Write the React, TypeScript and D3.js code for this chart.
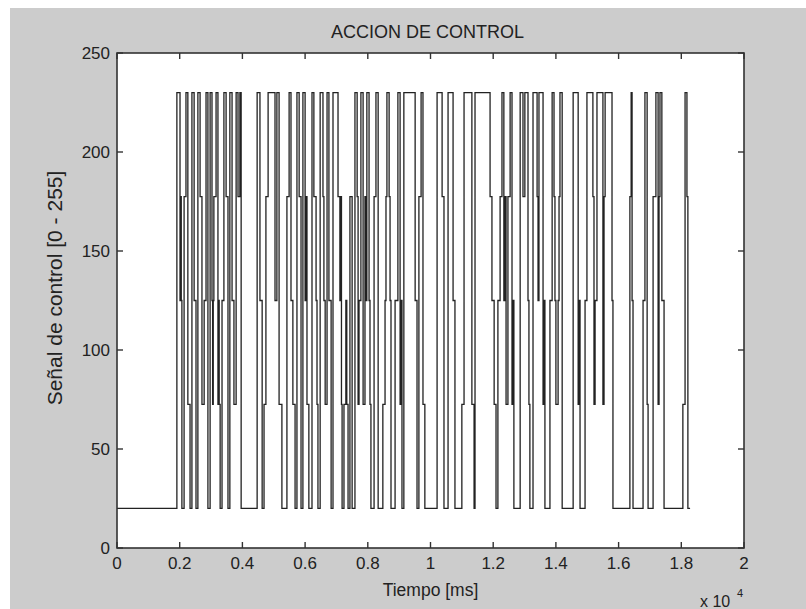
import React from 'react';
import * as d3 from 'd3';

// tiempos de cada cambio [ms] y nivel que toma la señal a partir de ese instante
const tiempos = [
  0, 1910, 2010, 2030, 2050, 2070, 2140, 2200, 2260, 2330,
  2390, 2460, 2520, 2580, 2650, 2710, 2780, 2840, 2900, 2970,
  3030, 3050, 3070, 3090, 3160, 3220, 3240, 3260, 3290, 3350,
  3410, 3480, 3540, 3600, 3670, 3730, 3800, 3860, 3920, 3960,
  4470, 4560, 4630, 4690, 4750, 4820, 5040, 5100, 5170, 5260,
  5420, 5490, 5550, 5610, 5680, 5740, 5810, 5870, 5930, 6000,
  6030, 6060, 6120, 6220, 6280, 6350, 6380, 6410, 6480, 6570,
  6600, 6640, 6700, 6760, 6830, 6890, 7050, 7110, 7140, 7160,
  7180, 7240, 7300, 7330, 7370, 7430, 7500, 7590, 7660, 7690,
  7720, 7780, 7850, 7910, 7940, 7970, 8040, 8070, 8100, 8200,
  8260, 8330, 8480, 8550, 8580, 8610, 8680, 8710, 8740, 8870,
  8960, 9030, 9060, 9090, 9150, 9510, 9570, 9630, 9700, 9760,
  9820, 10210, 10370, 10430, 10560, 10720, 10780, 11000, 11070, 11320,
  11390, 11420, 11900, 11960, 12030, 12090, 12150, 12220, 12280, 12340,
  12375, 12410, 12470, 12540, 12600, 12630, 12660, 12860, 12950, 13010,
  13110, 13140, 13170, 13270, 13400, 13430, 13460, 13590, 13620, 13650,
  13810, 13880, 13940, 13970, 14000, 14070, 14100, 14130, 14200, 14550,
  14710, 14740, 14770, 14930, 14990, 15180, 15215, 15250, 15310, 15500,
  15535, 15570, 15790, 15820, 16360, 16400, 16430, 16460, 16780, 16840,
  16910, 16940, 17100, 17190, 17260, 17290, 17320, 17380, 17450, 18050,
  18120, 18180, 18210, 18280,
];
const senal = [
  20, 230, 125, 177.5, 125, 20, 177.5, 230, 72.5, 20,
  230, 125, 20, 230, 177.5, 72.5, 125, 230, 20, 230,
  125, 72.5, 125, 177.5, 230, 72.5, 125, 72.5, 20, 125,
  230, 177.5, 20, 230, 125, 72.5, 230, 177.5, 230, 20,
  230, 125, 20, 72.5, 177.5, 230, 125, 230, 72.5, 20,
  177.5, 230, 125, 72.5, 20, 230, 177.5, 20, 230, 125,
  177.5, 72.5, 20, 230, 177.5, 125, 72.5, 20, 230, 177.5,
  125, 72.5, 230, 125, 20, 230, 177.5, 125, 177.5, 72.5,
  20, 72.5, 125, 72.5, 20, 177.5, 20, 230, 177.5, 72.5,
  125, 230, 72.5, 177.5, 125, 230, 125, 72.5, 20, 177.5,
  230, 20, 72.5, 125, 177.5, 230, 177.5, 125, 20, 125,
  230, 72.5, 125, 20, 230, 125, 20, 177.5, 230, 72.5,
  20, 230, 177.5, 20, 230, 125, 20, 72.5, 230, 72.5,
  20, 230, 177.5, 125, 72.5, 20, 125, 177.5, 230, 125,
  177.5, 72.5, 177.5, 230, 72.5, 125, 20, 230, 177.5, 230,
  125, 72.5, 20, 230, 177.5, 125, 230, 72.5, 125, 20,
  125, 230, 177.5, 125, 72.5, 125, 177.5, 230, 20, 230,
  72.5, 125, 20, 125, 230, 177.5, 72.5, 125, 230, 72.5,
  177.5, 230, 125, 20, 177.5, 230, 125, 20, 125, 230,
  72.5, 20, 177.5, 230, 72.5, 177.5, 230, 125, 20, 72.5,
  230, 177.5, 20, 20,
];

const xTicks = [0, 2000, 4000, 6000, 8000, 10000, 12000, 14000, 16000, 18000, 20000];
const xTickLabels = ['0', '0.2', '0.4', '0.6', '0.8', '1', '1.2', '1.4', '1.6', '1.8', '2'];
const yTicks = [0, 50, 100, 150, 200, 250];

const W = 806;
const H = 609;
const left = 117, right = 744, top = 53, bottom = 548;
const font = '"Liberation Sans", Arial, Helvetica, sans-serif';

export default function App() {
  const x = d3.scaleLinear().domain([0, 20000]).range([left, right]);
  const y = d3.scaleLinear().domain([0, 250]).range([bottom, top]);

  const puntos = tiempos.map((t, i) => [t, senal[i]] as [number, number]);
  const linea = d3.line<[number, number]>()
    .x(d => x(d[0]))
    .y(d => y(d[1]))
    .curve(d3.curveStepAfter);

  const tl = 6;
  const axisColor = '#333';

  return (
    <svg width={W} height={H} style={{ position: 'absolute', left: 0, top: 0 }} fontFamily={font}>
      <rect x={0} y={0} width={W} height={H} fill="#fff" />
      <rect x={10} y={8} width={W - 10} height={H - 8} fill="#cccccc" />
      <rect x={left} y={top} width={right - left} height={bottom - top} fill="#fff" />

      <path d={linea(puntos) ?? ''} fill="none" stroke="#222" strokeWidth={1.3} />

      {/* caja y marcas */}
      <rect x={left} y={top} width={right - left} height={bottom - top} fill="none" stroke={axisColor} strokeWidth={1.6} />
      {xTicks.map(t => (
        <g key={'x' + t}>
          <line x1={x(t)} x2={x(t)} y1={bottom} y2={bottom - tl} stroke={axisColor} strokeWidth={1.4} />
          <line x1={x(t)} x2={x(t)} y1={top} y2={top + tl} stroke={axisColor} strokeWidth={1.4} />
        </g>
      ))}
      {yTicks.map(v => (
        <g key={'y' + v}>
          <line x1={left} x2={left + tl} y1={y(v)} y2={y(v)} stroke={axisColor} strokeWidth={1.4} />
          <line x1={right} x2={right - tl} y1={y(v)} y2={y(v)} stroke={axisColor} strokeWidth={1.4} />
        </g>
      ))}

      {xTicks.map((t, i) => (
        <text key={'xl' + t} x={x(t)} y={bottom + 21} textAnchor="middle" fontSize={17} fill="#222">
          {xTickLabels[i]}
        </text>
      ))}
      {yTicks.map(v => (
        <text key={'yl' + v} x={left - 7} y={y(v) + 6} textAnchor="end" fontSize={17} fill="#222">
          {v}
        </text>
      ))}

      <text x={(left + right) / 2 - 3} y={38} textAnchor="middle" fontSize={18} fill="#222">
        ACCION DE CONTROL
      </text>
      <text x={(left + right) / 2} y={596} textAnchor="middle" fontSize={17.5} fill="#222">
        Tiempo [ms]
      </text>
      <text transform={`translate(62, 288) rotate(-90)`} textAnchor="middle" fontSize={21} fill="#222">
        Señal de control [0 - 255]
      </text>
      <text x={700} y={607} fontSize={16} fill="#222">x 10</text>
      <text x={737} y={597} fontSize={11} fill="#222">4</text>
    </svg>
  );
}
